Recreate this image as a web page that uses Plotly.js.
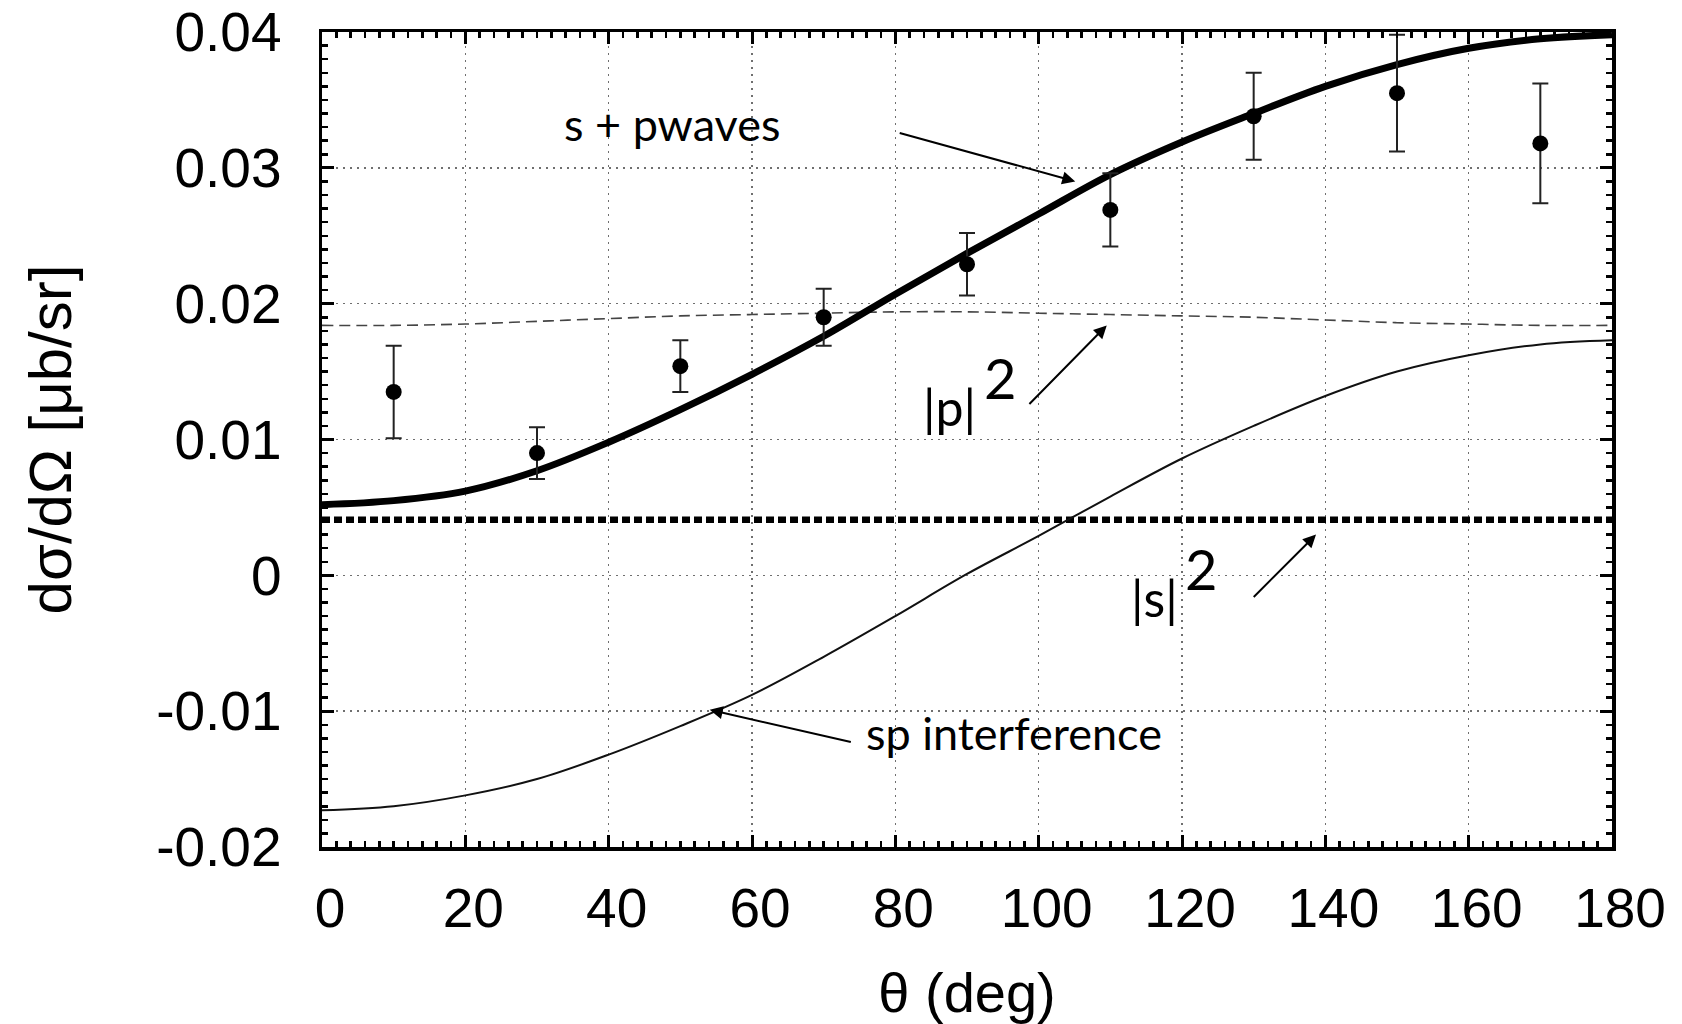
<!DOCTYPE html>
<html>
<head>
<meta charset="utf-8">
<script src="https://cdn.plot.ly/plotly-3.0.1.min.js"></script>
<style>
  html, body { margin: 0; padding: 0; background: #ffffff; }
  #chart { width: 1682px; height: 1024px; }
</style>
</head>
<body>
<div id="chart"></div>
<script>
// Scattering angle grid for the model curves (deg)
const thetaCurve = [0, 10, 20, 30, 40, 50, 60, 70, 80, 90, 100, 110, 120, 130, 140, 150, 160, 170, 180];

// s + p waves (total)
const totalSP = [0.0052, 0.0055, 0.0062, 0.0077, 0.0098, 0.0122, 0.0148, 0.0176, 0.0207, 0.0237,
                 0.0266, 0.0295, 0.0319, 0.0340, 0.0360, 0.0376, 0.0388, 0.0395, 0.0398];

// |p|^2 contribution
const pWave = [0.0184, 0.0184, 0.0185, 0.0187, 0.0189, 0.0191, 0.0192, 0.0193, 0.0194, 0.0194,
               0.0193, 0.0192, 0.0191, 0.0190, 0.0188, 0.0186, 0.0185, 0.0184, 0.0184];

// |s|^2 contribution (isotropic)
const thetaS = [0, 180];
const sWave = [0.0041, 0.0041];

// s-p interference term
const spInterf = [-0.0173, -0.0170, -0.0162, -0.0150, -0.0132, -0.0111, -0.0088, -0.0060, -0.0030, 0.0001,
                  0.0029, 0.0058, 0.0086, 0.0110, 0.0132, 0.0150, 0.0162, 0.0170, 0.0173];

// Measured cross sections with uncertainties
const thetaData = [10, 30, 50, 70, 90, 110, 130, 150, 170];
const xsData = [0.0135, 0.0090, 0.0154, 0.0190, 0.0229, 0.0269, 0.0338, 0.0355, 0.0318];
const xsErr = [0.0034, 0.0019, 0.0019, 0.0021, 0.0023, 0.0027, 0.0032, 0.0043, 0.0044];

// Axis ticks
const xTicks = [0, 20, 40, 60, 80, 100, 120, 140, 160, 180];
const yTicks = [-0.02, -0.01, 0, 0.01, 0.02, 0.03, 0.04];
const yTickText = ['-0.02', '-0.01', '0', '0.01', '0.02', '0.03', '0.04'];

const traces = [
  { x: thetaCurve, y: pWave, mode: 'lines', line: { color: '#444444', width: 1.6, dash: '11px,6px', shape: 'spline' }, hoverinfo: 'skip' },
  { x: thetaS, y: sWave, mode: 'lines', line: { color: '#000000', width: 6.5, dash: '8px,4px' }, hoverinfo: 'skip' },
  { x: thetaCurve, y: spInterf, mode: 'lines', line: { color: '#111111', width: 2, shape: 'spline' }, hoverinfo: 'skip' },
  { x: thetaCurve, y: totalSP, mode: 'lines', line: { color: '#000000', width: 7, shape: 'spline' }, hoverinfo: 'skip' },
  {
    x: thetaData, y: xsData, mode: 'markers',
    marker: { color: '#000000', size: 16 },
    error_y: { type: 'data', array: xsErr, visible: true, color: '#222222', thickness: 2, width: 8 },
    hoverinfo: 'skip'
  }
];

const annFont = { family: 'Lato, "Open Sans", sans-serif', size: 45, color: '#000000' };
const arrowStyle = { showarrow: true, arrowhead: 2, arrowsize: 1.3, arrowwidth: 2, arrowcolor: '#000000', axref: 'x', ayref: 'y', text: '' };

const annotations = [
  { x: 48.8, y: 0.0332, xref: 'x', yref: 'y', text: 's + pwaves', showarrow: false, font: annFont },
  Object.assign({ x: 105.1, y: 0.0290, ax: 80.4, ay: 0.0326 }, arrowStyle),

  { x: 87.6, y: 0.0124, xref: 'x', yref: 'y', text: '|p|', showarrow: false, font: Object.assign({}, annFont, { size: 50 }) },
  { x: 94.6, y: 0.0146, xref: 'x', yref: 'y', text: '2', showarrow: false, font: Object.assign({}, annFont, { size: 56 }) },
  Object.assign({ x: 109.5, y: 0.0184, ax: 98.5, ay: 0.0125 }, arrowStyle),

  { x: 116.2, y: -0.0017, xref: 'x', yref: 'y', text: '|s|', showarrow: false, font: Object.assign({}, annFont, { size: 50 }) },
  { x: 122.6, y: 0.0005, xref: 'x', yref: 'y', text: '2', showarrow: false, font: Object.assign({}, annFont, { size: 56 }) },
  Object.assign({ x: 138.7, y: 0.0030, ax: 129.8, ay: -0.0017 }, arrowStyle),

  { x: 96.6, y: -0.0116, xref: 'x', yref: 'y', text: 'sp interference', showarrow: false, font: annFont },
  Object.assign({ x: 54.1, y: -0.0099, ax: 74.0, ay: -0.0123 }, arrowStyle)
];

const axisCommon = {
  showline: true, linecolor: '#000000', linewidth: 3.5, mirror: 'allticks',
  ticks: 'inside', ticklen: 12, tickwidth: 3, tickcolor: '#000000',
  showgrid: true, gridcolor: '#6f6f6f', gridwidth: 1.4, griddash: '2px,5px',
  zeroline: false,
  tickfont: { family: '"Liberation Sans", Arial, Helvetica, sans-serif', size: 55, color: '#000000' }
};

const layout = {
  width: 1682, height: 1024,
  margin: { l: 322, r: 70, t: 32, b: 177 },
  paper_bgcolor: '#ffffff', plot_bgcolor: '#ffffff',
  showlegend: false,
  font: { family: '"Liberation Sans", Arial, sans-serif', color: '#000000' },
  xaxis: Object.assign({}, axisCommon, {
    range: [0, 180], tickmode: 'array', tickvals: xTicks,
    ticklabelstandoff: 10, ticklabelshift: 8,
    minor: { ticks: 'inside', ticklen: 6, tickwidth: 2.5, tickcolor: '#000000', dtick: 2, showgrid: false },
    title: { text: 'θ (deg)', font: { family: '"Liberation Sans", Arial, sans-serif', size: 56, color: '#000000' }, standoff: 42 }
  }),
  yaxis: Object.assign({}, axisCommon, {
    range: [-0.02, 0.04], tickmode: 'array', tickvals: yTicks, ticktext: yTickText,
    ticklabelstandoff: 26,
    minor: { ticks: 'inside', ticklen: 6, tickwidth: 2.5, tickcolor: '#000000', dtick: 0.001, showgrid: false },
    title: { text: 'dσ/dΩ [μb/sr]', font: { family: '"Liberation Sans", Arial, sans-serif', size: 60, color: '#000000' }, standoff: 66 }
  }),
  annotations: annotations
};

Plotly.newPlot('chart', traces, layout, { displayModeBar: false, staticPlot: true });
</script>
</body>
</html>
